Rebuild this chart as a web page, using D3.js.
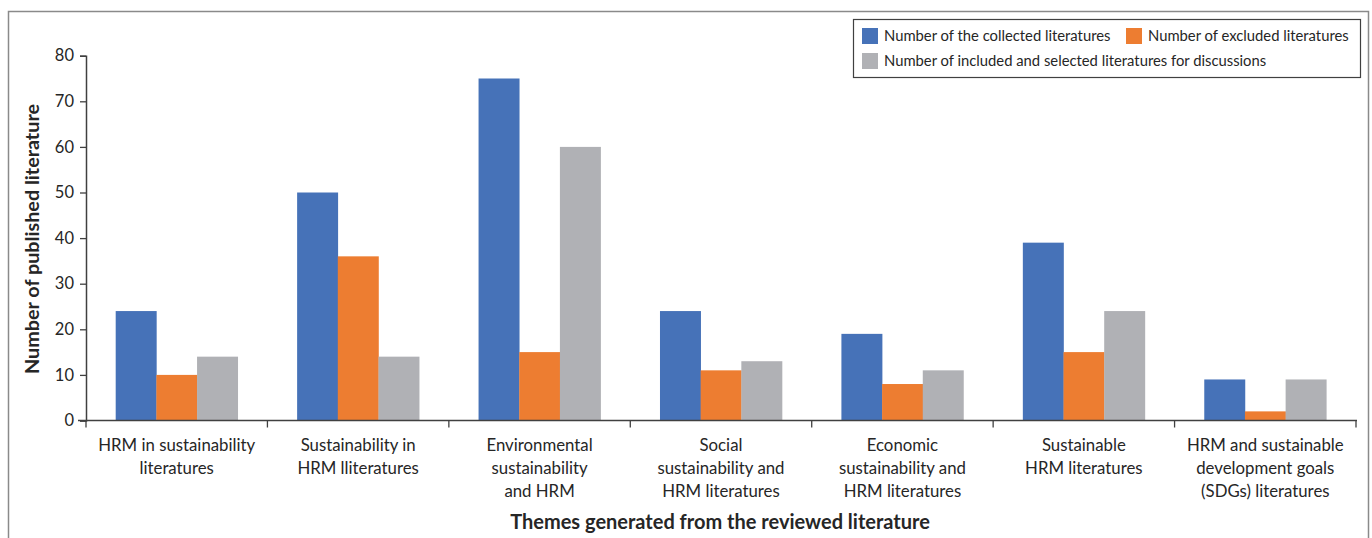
<!DOCTYPE html>
<html>
<head>
<meta charset="utf-8">
<script src="https://d3js.org/d3.v7.min.js"></script>
<style>
  body { margin: 0; background: #fff; }
  svg text { font-family: Lato, "Open Sans", sans-serif; fill: #262626; }
</style>
</head>
<body>
<svg id="chart" width="1372" height="538"></svg>
<script>
// chart data
const categories = [
  "HRM in sustainability literatures",
  "Sustainability in HRM lliteratures",
  "Environmental sustainability and HRM",
  "Social sustainability and HRM literatures",
  "Economic sustainability and HRM literatures",
  "Sustainable HRM literatures",
  "HRM and sustainable development goals (SDGs) literatures"
];
// how each category label is broken in the picture
const categoryLines = [
  ["HRM in sustainability", "literatures"],
  ["Sustainability in", "HRM lliteratures"],
  ["Environmental", "sustainability", "and HRM"],
  ["Social", "sustainability and", "HRM literatures"],
  ["Economic", "sustainability and", "HRM literatures"],
  ["Sustainable", "HRM literatures"],
  ["HRM and sustainable", "development goals", "(SDGs) literatures"]
];
const seriesNames = [
  "Number of the collected literatures",
  "Number of excluded literatures",
  "Number of included and selected literatures for discussions"
];
const collected = [24, 50, 75, 24, 19, 39, 9];
const excluded = [10, 36, 15, 11, 8, 15, 2];
const included = [14, 14, 60, 13, 11, 24, 9];
const yTicks = [0, 10, 20, 30, 40, 50, 60, 70, 80];

const colors = ["#4672B8", "#ED7D31", "#B0B1B5"];
const seriesValues = [collected, excluded, included];

const svg = d3.select("#chart");

// outer frame (open at the bottom, like the cropped figure)
svg.append("path")
  .attr("d", "M8.5,538 L8.5,11.5 L1368.5,11.5 L1368.5,538")
  .attr("fill", "none")
  .attr("stroke", "#8a8a8a")
  .attr("stroke-width", 1.5);

const plotLeft = 86, plotRight = 1356, plotTop = 55.7, plotBottom = 420.5;

const x0 = d3.scaleBand().domain(categories).range([plotLeft, plotRight]).padding(0);
const x1 = d3.scaleBand().domain(d3.range(3)).range([0, x0.bandwidth()])
  .paddingInner(0).paddingOuter(0.73);
const y = d3.scaleLinear().domain([0, 80]).range([plotBottom, plotTop]);

// bars
const groups = svg.append("g").selectAll("g")
  .data(categories)
  .join("g")
  .attr("transform", d => `translate(${x0(d)},0)`);

groups.selectAll("rect")
  .data((d, i) => seriesValues.map((s, k) => ({k: k, v: s[i]})))
  .join("rect")
  .attr("x", d => x1(d.k))
  .attr("y", d => y(d.v))
  .attr("width", x1.bandwidth() + 0.3)
  .attr("height", d => y(0) - y(d.v))
  .attr("fill", d => colors[d.k]);

// y axis
const yAxis = svg.append("g")
  .attr("transform", `translate(${plotLeft},0)`)
  .call(d3.axisLeft(y).tickValues(yTicks).tickSize(6).tickPadding(6));
yAxis.select(".domain").attr("stroke", "#404040").attr("stroke-width", 1.5);
yAxis.selectAll(".tick line").attr("stroke", "#404040").attr("stroke-width", 1.3);
yAxis.selectAll(".tick text")
  .style("font-family", "Lato, 'Open Sans', sans-serif")
  .style("font-size", "16.5px")
  .attr("fill", "#262626");

// x axis line with boundary ticks
const xAxis = svg.append("g");
xAxis.append("line")
  .attr("x1", plotLeft - 8).attr("x2", plotRight + 1)
  .attr("y1", plotBottom).attr("y2", plotBottom)
  .attr("stroke", "#404040").attr("stroke-width", 1.5);
const bounds = categories.map(c => x0(c)).concat([plotRight]);
xAxis.selectAll("line.b")
  .data(bounds)
  .join("line")
  .attr("class", "b")
  .attr("x1", d => d).attr("x2", d => d)
  .attr("y1", plotBottom).attr("y2", plotBottom + 7)
  .attr("stroke", "#404040").attr("stroke-width", 1.3);

// category labels
svg.append("g").selectAll("text")
  .data(categories)
  .join("text")
  .attr("text-anchor", "middle")
  .style("font-size", "16.8px")
  .each(function(d, i) {
    d3.select(this).selectAll("tspan")
      .data(categoryLines[i])
      .join("tspan")
      .attr("x", x0(d) + x0.bandwidth() / 2)
      .attr("y", (t, j) => 451 + j * 23)
      .text(t => t);
  });

// axis titles
svg.append("text")
  .attr("x", 720).attr("y", 529)
  .attr("text-anchor", "middle")
  .style("font-size", "20px")
  .style("font-weight", "bold")
  .text("Themes generated from the reviewed literature");

svg.append("text")
  .attr("transform", "translate(39,239) rotate(-90)")
  .attr("text-anchor", "middle")
  .style("font-size", "19.8px")
  .style("font-weight", "bold")
  .text("Number of published literature");

// legend
const legend = svg.append("g");
legend.append("rect")
  .attr("x", 853.5).attr("y", 19.5)
  .attr("width", 507).attr("height", 58)
  .attr("fill", "#fff")
  .attr("stroke", "#404040").attr("stroke-width", 1.2);

const legendPos = [[862, 28], [1126, 28], [862, 53]];
const items = legend.selectAll("g.item")
  .data(seriesNames)
  .join("g")
  .attr("class", "item")
  .attr("transform", (d, i) => `translate(${legendPos[i][0]},${legendPos[i][1]})`);
items.append("rect")
  .attr("width", 16).attr("height", 16)
  .attr("fill", (d, i) => colors[i]);
items.append("text")
  .attr("x", 22).attr("y", 13)
  .style("font-size", "14.8px")
  .text(d => d);
</script>
</body>
</html>
